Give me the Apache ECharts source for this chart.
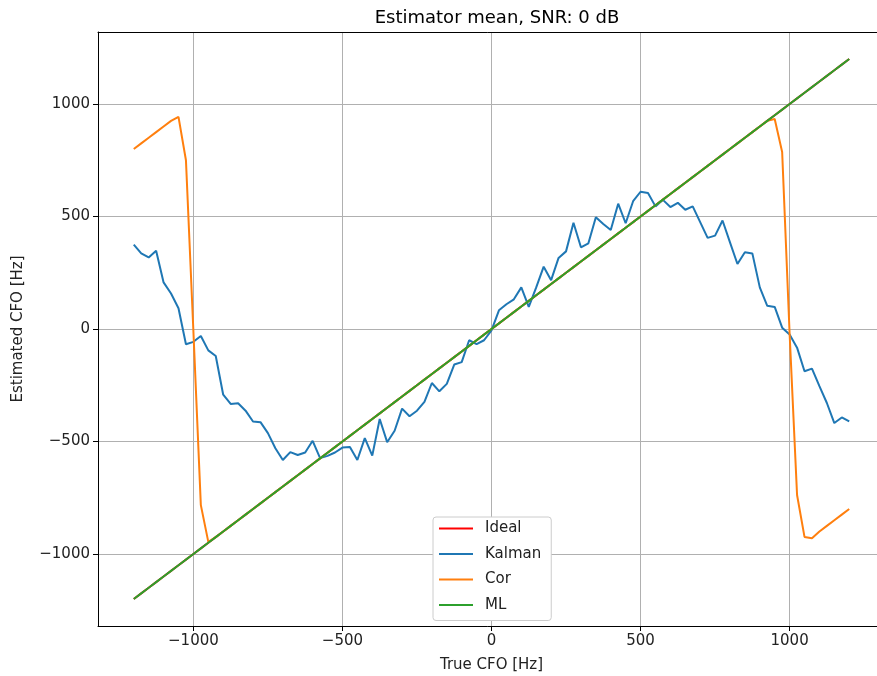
<!DOCTYPE html>
<html lang="en">
<head>
    <meta charset="UTF-8">
    <title>Estimator mean, SNR: 0 dB</title>
    <script src="https://cdn.jsdelivr.net/npm/echarts@6/dist/echarts.min.js"></script>
    <style>
        html, body { margin: 0; padding: 0; background: #fff; }
        #chart { width: 877px; height: 676px; }
    </style>
</head>
<body>
<div id="chart"></div>
<script>
    // true CFO [Hz], one point every 25 Hz
    const trueCfo = [
        -1200, -1175, -1150, -1125, -1100, -1075, -1050, -1025, -1000, -975, -950, -925, -900, -875, -850, -825,
        -800, -775, -750, -725, -700, -675, -650, -625, -600, -575, -550, -525, -500, -475, -450, -425,
        -400, -375, -350, -325, -300, -275, -250, -225, -200, -175, -150, -125, -100, -75, -50, -25,
        0, 25, 50, 75, 100, 125, 150, 175, 200, 225, 250, 275, 300, 325, 350, 375,
        400, 425, 450, 475, 500, 525, 550, 575, 600, 625, 650, 675, 700, 725, 750, 775,
        800, 825, 850, 875, 900, 925, 950, 975, 1000, 1025, 1050, 1075, 1100, 1125, 1150, 1175, 1200
    ];

    const kalman = [
        375, 336, 318, 348, 207, 158, 92, -68, -57, -31, -95, -120, -292, -333, -330, -363,
        -411, -414, -463, -530, -582, -547, -560, -549, -497, -574, -564, -549, -527, -524, -582, -485,
        -563, -400, -503, -452, -354, -388, -363, -324, -240, -277, -244, -158, -147, -50, -67, -50,
        -6, 83, 110, 132, 185, 98, 185, 277, 217, 316, 345, 472, 363, 381, 497, 467,
        440, 557, 470, 568, 610, 604, 545, 574, 542, 561, 530, 545, 475, 405, 415, 482,
        385, 289, 341, 336, 185, 103, 98, 6, -24, -83, -188, -176, -254, -329, -418, -393, -411
    ];

    const cor = [
        800, 825, 850, 875, 900, 925, 943, 750, -10, -783, -946, -925, -900, -875, -850, -825,
        -800, -775, -750, -725, -700, -675, -650, -625, -600, -575, -550, -525, -500, -475, -450, -425,
        -400, -375, -350, -325, -300, -275, -250, -225, -200, -175, -150, -125, -100, -75, -50, -25,
        0, 25, 50, 75, 100, 125, 150, 175, 200, 225, 250, 275, 300, 325, 350, 375,
        400, 425, 450, 475, 500, 525, 550, 575, 600, 625, 650, 675, 700, 725, 750, 775,
        800, 825, 850, 875, 900, 925, 933, 787, -20, -738, -924, -930, -900, -875, -850, -825, -800
    ];

    const ml = [
        -1200, -1175, -1150, -1125, -1100, -1075, -1050, -1025, -1000, -975, -950, -925, -900, -875, -850, -825,
        -800, -775, -750, -725, -700, -675, -650, -625, -600, -575, -550, -525, -500, -475, -450, -425,
        -400, -375, -350, -325, -300, -275, -250, -225, -200, -175, -150, -125, -100, -75, -50, -25,
        0, 25, 50, 75, 100, 125, 150, 175, 200, 225, 250, 275, 300, 325, 350, 375,
        400, 425, 450, 475, 500, 525, 550, 575, 600, 625, 650, 675, 700, 725, 750, 775,
        800, 825, 850, 875, 900, 925, 950, 975, 1000, 1025, 1050, 1075, 1100, 1125, 1150, 1175, 1200
    ];

    const tickValues = [-1000, -500, 0, 500, 1000];
    const seriesNames = ['Ideal', 'Kalman', 'Cor', 'ML'];
    const seriesColors = ['#ff0000', '#1f77b4', '#ff7f0e', '#2ca02c'];

    const font = 'DejaVu Sans';
    const minus = v => String(v).replace('-', '\u2212');
    const pairs = ys => trueCfo.map((x, i) => [x, ys[i]]);

    let chart = echarts.init(document.getElementById('chart'));

    let axisBase = {
        type: 'value',
        min: -1320,
        max: 1320,
        axisLine: { show: true, onZero: false, lineStyle: { color: '#000', width: 1 } },
        axisTick: { show: true, inside: false, length: 5, customValues: tickValues, lineStyle: { color: '#000' } },
        axisLabel: {
            customValues: tickValues, formatter: minus, margin: 8,
            fontFamily: font, fontSize: 15, color: '#222'
        },
        splitLine: { show: true, lineStyle: { color: '#b0b0b0', width: 1 } },
        nameLocation: 'middle',
        nameTextStyle: { fontFamily: font, fontSize: 15, color: '#222' }
    };

    let option = {
        animation: false,
        backgroundColor: '#fff',
        title: {
            text: 'Estimator mean, SNR: 0 dB',
            left: 492,
            top: 4,
            textAlign: 'center',
            textStyle: { fontFamily: font, fontSize: 18, fontWeight: 'normal', color: '#000' }
        },
        // the right spine lies past the picture's edge
        grid: { left: 98, top: 32, width: 787, height: 594, outerBoundsMode: 'none' },
        legend: {
            data: seriesNames,
            orient: 'vertical',
            left: 433,
            top: 517,
            itemWidth: 34,
            itemHeight: 14,
            itemGap: 10.5,
            padding: [4, 10, 8, 5],
            backgroundColor: '#fff',
            borderColor: '#cccccc',
            borderWidth: 1,
            borderRadius: 3,
            itemStyle: { opacity: 0 },
            textStyle: { fontFamily: font, fontSize: 15, color: '#222', padding: [0, 0, 0, 7] }
        },
        xAxis: [
            Object.assign({}, axisBase, { name: 'True CFO [Hz]', nameGap: 32 }),
            { type: 'value', position: 'top', min: -1320, max: 1320,
              axisLine: { show: true, onZero: false, lineStyle: { color: '#000', width: 1 } },
              axisTick: { show: false }, axisLabel: { show: false }, splitLine: { show: false } }
        ],
        yAxis: Object.assign({}, axisBase, { name: 'Estimated CFO [Hz]', nameGap: 72 }),
        series: [
            { name: 'Ideal', data: pairs(trueCfo) },
            { name: 'Kalman', data: pairs(kalman) },
            { name: 'Cor', data: pairs(cor) },
            { name: 'ML', data: pairs(ml) }
        ].map((s, i) => Object.assign({
            type: 'line',
            xAxisIndex: 0,
            symbol: 'none',
            color: seriesColors[i],
            lineStyle: { width: 2, color: seriesColors[i] },
            z: 2 + i
        }, s))
    };

    chart.setOption(option);
</script>
</body>
</html>
